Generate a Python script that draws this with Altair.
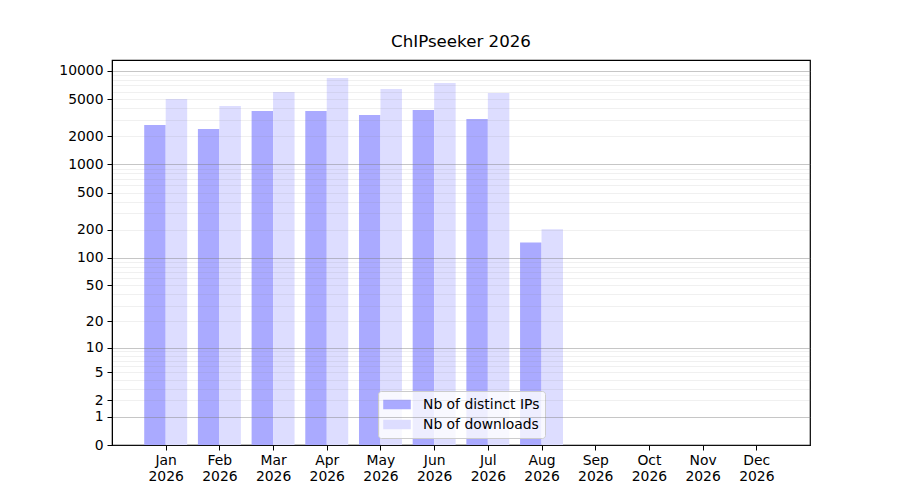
import altair as alt
import pandas as pd
import json

months = ["Jan", "Feb", "Mar", "Apr", "May", "Jun", "Jul", "Aug", "Sep", "Oct", "Nov", "Dec"]
year = "2026"
ips = [2650, 2400, 3730, 3740, 3380, 3830, 3070, 145, 0, 0, 0, 0]
downloads = [5020, 4230, 5960, 8420, 6420, 7450, 5820, 202, 0, 0, 0, 0]
series = ["Nb of distinct IPs", "Nb of downloads"]
colors = ["#aaaaff", "#ddddff"]

y_labels = [0, 1, 2, 5, 10, 20, 50, 100, 200, 500, 1000, 2000, 5000, 10000]
y_major = [1, 10, 100, 1000, 10000]
y_minor = [2, 3, 4, 5, 6, 7, 8, 9,
           20, 30, 40, 50, 60, 70, 80, 90,
           200, 300, 400, 500, 600, 700, 800, 900,
           2000, 3000, 4000, 5000, 6000, 7000, 8000, 9000]

rows = []
for i, m in enumerate(months):
    rows.append({"m": i + 1, "series": series[0], "side": -1, "value": ips[i]})
    rows.append({"m": i + 1, "series": series[1], "side": 0, "value": downloads[i]})
df = pd.DataFrame(rows)

label_test = "indexof(%s, datum.value) >= 0" % json.dumps(y_labels)
major_test = "indexof(%s, datum.value) >= 0" % json.dumps(y_major)
x_label_expr = "[%s[datum.value - 1], '%s']" % (json.dumps(months), year)

font = "DejaVu Sans"

bars = alt.Chart(df).transform_filter("datum.value > 0").transform_calculate(
    x0="datum.m + datum.side * 0.4",
    x1="datum.m + datum.side * 0.4 + 0.4",
).mark_bar(stroke=None).encode(
    x=alt.X("x0:Q",
            scale=alt.Scale(domain=[0, 13], nice=False, zero=False),
            axis=alt.Axis(values=list(range(1, 13)), labelExpr=x_label_expr,
                          title=None, grid=False, labelLineHeight=16,
                          labelPadding=3)),
    x2="x1:Q",
    y=alt.Y("value:Q",
            scale=alt.Scale(type="symlog", constant=1, domain=[0, 13100], nice=False),
            axis=alt.Axis(values=y_labels + y_minor, format="d",
                          labelExpr="%s ? datum.label : ''" % label_test,
                          tickOpacity={"condition": {"test": label_test, "value": 1}, "value": 0},
                          gridColor="#808080",
                          gridOpacity={"condition": {"test": major_test, "value": 0.45}, "value": 0.12},
                          title=None, grid=True, zindex=1, labelPadding=4)),
    y2=alt.datum(0),
    color=alt.Color("series:N",
                    scale=alt.Scale(domain=series, range=colors),
                    legend=alt.Legend(title=None, orient="none", legendX=266, legendY=331,
                                      symbolType="M-1,-0.35L1,-0.35L1,0.35L-1,0.35Z",
                                      symbolSize=760, symbolStrokeWidth=0, symbolOpacity=1,
                                      labelFontSize=13.9, labelFont=font, labelColor="black",
                                      labelOffset=12, clipHeight=17, rowPadding=3,
                                      padding=5, fillColor="rgba(255,255,255,0.8)",
                                      strokeColor="#cccccc", cornerRadius=3)),
).properties(
    width=698, height=385,
    autosize="none",
    padding={"left": 104, "top": 52, "right": 80, "bottom": 40},
    title=alt.TitleParams("ChIPseeker 2026", fontSize=16.67, fontWeight="normal",
                          font=font, color="black", anchor="middle", offset=9),
)

chart = bars.configure_view(stroke="black", strokeWidth=1.2).configure_axis(
    labelFont=font, labelFontSize=13.9, labelColor="black",
    domainColor="black", tickColor="black", tickSize=5, gridWidth=1,
).configure_bar(opacity=1)

chart.save("out.html", embed_options={"renderer": "svg", "actions": False})
